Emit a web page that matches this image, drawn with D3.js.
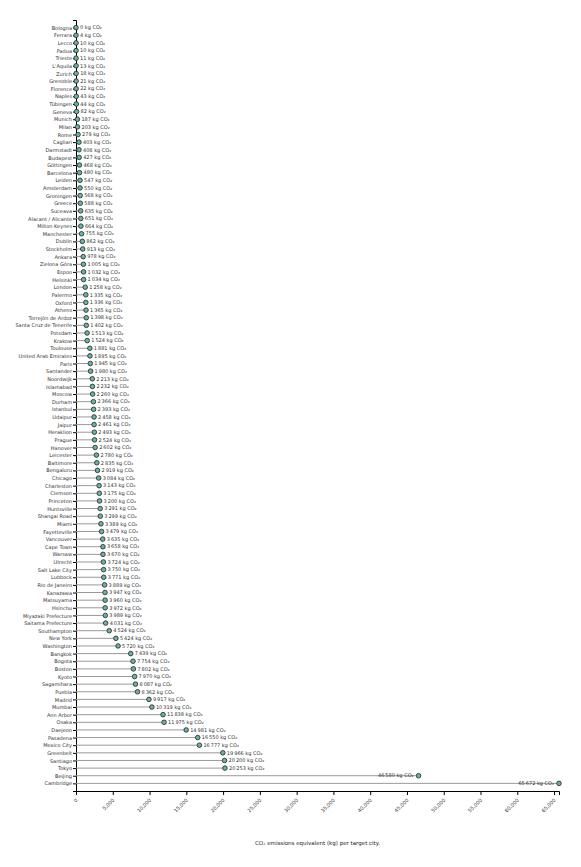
<!DOCTYPE html>
<html><head><meta charset="utf-8">
<script src="https://cdn.jsdelivr.net/npm/d3@7"></script>
<style>body{margin:0;background:#fff;} svg text{font-family:"DejaVu Sans",sans-serif;}</style>
</head><body><div id="chart"></div>
<script>
const cities = ["Bologna","Ferrara","Lecco","Padua","Trieste","L'Aquila","Zurich","Grenoble","Florence","Naples",
"Tübingen","Geneva","Munich","Milan","Rome","Cagliari","Darmstadt","Budapest","Göttingen","Barcelona",
"Leiden","Amsterdam","Groningen","Greece","Suceava","Alacant / Alicante","Milton Keynes","Manchester","Dublin","Stockholm",
"Ankara","Zielona Góra","Espoo","Helsinki","London","Palermo","Oxford","Athens","Torrejón de Ardoz","Santa Cruz de Tenerife",
"Potsdam","Krakow","Toulouse","United Arab Emirates","Paris","Santander","Noordwijk","Islamabad","Moscow","Durham",
"Istanbul","Udaipur","Jaipur","Heraklion","Prague","Hanover","Leicester","Baltimore","Bengaluru","Chicago",
"Charleston","Clemson","Princeton","Huntsville","Shangai Road","Miami","Fayetteville","Vancouver","Cape Town","Warsaw",
"Utrecht","Salt Lake City","Lubbock","Rio de Janeiro","Kanazawa","Matsuyama","Hsinchu","Miyazaki Prefecture","Saitama Prefecture","Southampton",
"New York","Washington","Bangkok","Bogota","Boston","Kyoto","Sagamihara","Puebla","Madrid","Mumbai",
"Ann Arbor","Osaka","Daejeon","Pasadena","Mexico City","Greenbelt","Santiago","Tokyo","Beijing","Cambridge"];
const emissions = [0,4,10,10,11,13,18,21,22,43,
44,82,187,203,279,403,408,427,468,480,
547,550,568,588,635,651,664,755,862,913,
978,1005,1032,1034,1258,1335,1336,1365,1398,1402,
1513,1524,1881,1895,1945,1980,2213,2232,2260,2366,
2393,2458,2461,2493,2524,2602,2780,2835,2919,3084,
3143,3175,3200,3291,3299,3389,3479,3635,3658,3670,
3724,3750,3771,3889,3947,3960,3972,3989,4031,4524,
5424,5720,7439,7754,7802,7970,8087,8362,9917,10319,
11838,11975,14981,16550,16777,19966,20200,20253,46580,65672];
const xTicks = [0,5000,10000,15000,20000,25000,30000,35000,40000,45000,50000,55000,60000,65000];
const unitLabel = " kg CO₂";
const axisTitle = "CO₂ emissions equivalent (kg) per target city.";

const data = cities.map((c,i)=>({city:c, value:emissions[i]}));
const W = 581, H = 867;
const margin = {top:20, right:22, bottom:76, left:76};
const w = W - margin.left - margin.right, h = H - margin.top - margin.bottom;

const svg = d3.select("#chart").append("svg").attr("width",W).attr("height",H)
  .append("g").attr("transform",`translate(${margin.left},${margin.top})`);

const x = d3.scaleLinear().domain([0, d3.max(emissions)]).range([0,w]);
const y = d3.scaleBand().domain(cities).range([0,h]).padding(1);

const loc = d3.formatLocale({decimal:".", thousands:"\u2009", grouping:[3], currency:["",""]});
const fmt = loc.format(",");

const gx = svg.append("g").attr("transform",`translate(0,${h})`)
  .call(d3.axisBottom(x).tickValues(xTicks).tickFormat(d3.format(",")).tickSize(4));
gx.selectAll("text").attr("transform","translate(-6,2)rotate(-45)").style("text-anchor","end")
  .attr("font-size","5px").attr("fill","#333");

const gy = svg.append("g").call(d3.axisLeft(y).tickSize(3));
gy.selectAll("text").attr("font-size","5px").attr("fill","#333").attr("x",-4);

svg.selectAll("line.stem").data(data).enter().append("line").attr("class","stem")
  .attr("x1",x(0)).attr("x2",d=>x(d.value)).attr("y1",d=>y(d.city)).attr("y2",d=>y(d.city))
  .attr("stroke","#999").attr("stroke-width",1);

svg.selectAll("circle").data(data).enter().append("circle")
  .attr("cx",d=>x(d.value)).attr("cy",d=>y(d.city)).attr("r",2.3)
  .attr("fill","#69b3a2").attr("stroke","#222").attr("stroke-width",0.8);

svg.selectAll("text.val").data(data).enter().append("text").attr("class","val")
  .attr("x",d=> d.value>30000 ? x(d.value)-5 : x(d.value)+4)
  .attr("y",d=>y(d.city)).attr("dy","0.35em")
  .attr("text-anchor",d=> d.value>30000 ? "end":"start")
  .attr("font-size","5px").attr("fill","#333")
  .text(d=>fmt(d.value)+unitLabel);

svg.append("text").attr("x",w/2).attr("y",h+54).attr("text-anchor","middle")
  .attr("font-size","5.5px").attr("fill","#222").text(axisTitle);
</script></body></html>
